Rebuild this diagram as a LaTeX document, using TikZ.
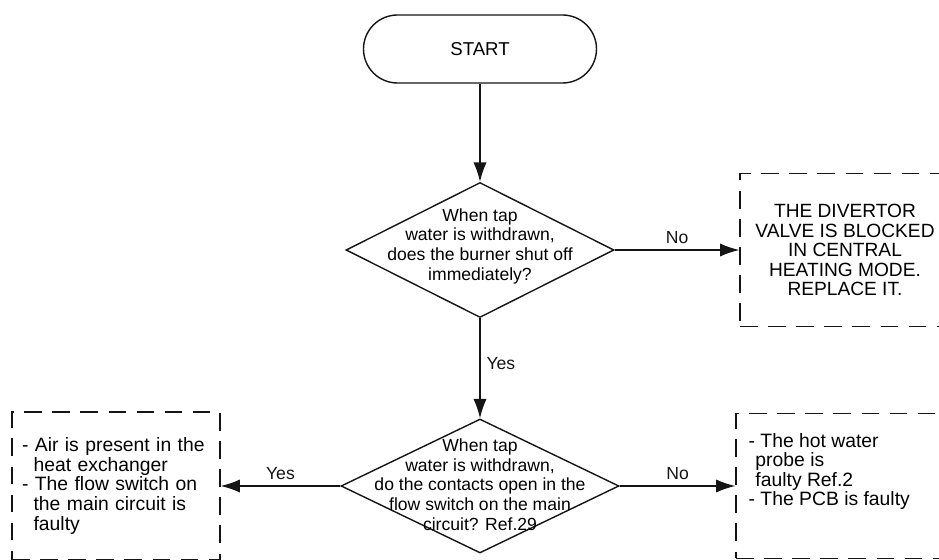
\documentclass[tikz,border=0pt]{standalone}
\usepackage{fontspec}
\setmainfont{Liberation Sans}
\usetikzlibrary{arrows.meta,shapes.geometric}
\definecolor{flowink}{HTML}{151515}

\begin{document}
\begin{tikzpicture}[>={Latex[length=11pt,width=7.5pt]},line width=.8pt,
 font=\fontsize{10}{11.2}\selectfont,
 term/.style={draw=flowink,rounded corners=.68cm,minimum width=4.66cm,minimum height=1.36cm},
 query/.style={draw=flowink,diamond,inner sep=0pt},
 qtext/.style={align=center,inner sep=0pt},
 outbox/.style={draw=flowink,dash pattern=on 10pt off 6pt,line width=.7pt},
 boxtext/.style={font=\fontsize{11}{11.1}\selectfont},
 arr/.style={->,flowink}]
\clip (0,0) rectangle (18.78,11.2);
\node[term,font=\fontsize{10.6}{12}\selectfont] (start) at (9.6,10.22) {START};
\node[query,minimum width=5.36cm,minimum height=2.7cm] (q1) at (9.6,6.2) {};
\node[qtext] (q1t) at (9.6,6.28) {When tap\\water is withdrawn,\\does the burner shut off\\immediately?};
\node[query,minimum width=5.56cm,minimum height=2.68cm] (q2) at (9.6,1.48) {};
\node[qtext] (q2t) at (9.6,1.51) {When tap\\water is withdrawn,\\do the contacts open in the\\flow switch on the main\\circuit? Ref.29};
\node[outbox,align=center,minimum width=4.2cm,minimum height=3.06cm,
 font=\fontsize{10.9}{11.1}\selectfont] (divert) at (16.9,6.2)
 {THE DIVERTOR\\VALVE IS BLOCKED\\IN CENTRAL\\HEATING MODE.\\REPLACE IT.};
\node[outbox,boxtext,align=left,text width=3.76cm,inner xsep=.2cm,
 minimum width=4.16cm,minimum height=2.96cm] (air) at (2.32,1.48)
 {- Air is present in the\\\hspace*{.6em}heat exchanger\\- The flow switch on\\\hspace*{.6em}the main circuit is\\\hspace*{.6em}faulty};
\node[outbox,minimum width=4.48cm,minimum height=2.9cm] (pcb) at (16.96,1.48) {};
\node[boxtext,align=left,anchor=north west,inner sep=0pt] (pcbt) at (14.96,2.55)
 {- The hot water\\\hspace*{.35em}probe is\\\hspace*{.35em}faulty Ref.2\\- The PCB is faulty};
\draw[arr] (start) -- (q1);
\draw[arr] (q1) -- (divert) node[midway,above] {No};
\draw[arr] (q1) -- (q2) node[pos=.45,right] {Yes};
\draw[arr] (q2) -- (air) node[midway,above] {Yes};
\draw[arr] (q2) -- (pcb) node[midway,above] {No};
\end{tikzpicture}
\end{document}
